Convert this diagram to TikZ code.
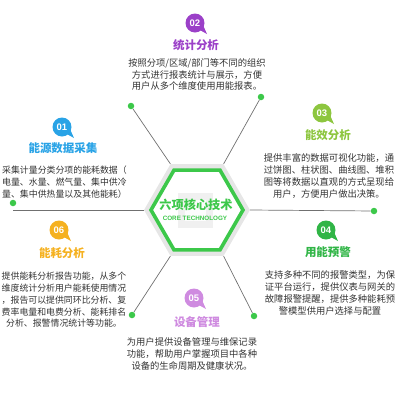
\documentclass[tikz,border=0pt]{standalone}
\usepackage{fontspec}
\newfontfamily\cjk{Noto Sans CJK SC}
\newfontfamily\lsans{Liberation Sans}
\usetikzlibrary{shapes.geometric,backgrounds,calc}
\definecolor{cA}{HTML}{29A3E6}
\definecolor{cB}{HTML}{9B40C8}
\definecolor{cC}{HTML}{8DC63F}
\definecolor{cD}{HTML}{30B546}
\definecolor{cE}{HTML}{CF8BE0}
\definecolor{cF}{HTML}{F5B120}
\definecolor{txt}{HTML}{333333}
\definecolor{linegray}{HTML}{707070}
\definecolor{dotgreen}{HTML}{3CC84A}
\definecolor{hexgreen}{HTML}{3CC84A}
\definecolor{hexgray}{HTML}{E6E6E6}
\tikzset{
  body/.style={font=\cjk\fontsize{9.3}{11.8}\selectfont, text=txt, align=center, inner sep=0pt},
  bodyl/.style={body, font=\cjk\fontsize{8.9}{11.8}\selectfont},
  ttl/.style={font=\cjk\bfseries\fontsize{11.5}{13}\selectfont, inner sep=0pt},
  num/.style={font=\lsans\bfseries\fontsize{9.5}{10}\selectfont, text=white, inner sep=0pt},
  conn/.style={draw=linegray, line width=0.7pt},
  gdot/.style={circle, fill=dotgreen, minimum size=6.5pt, inner sep=0pt},
}
\newcommand\badge[5]{%
  \fill[#4] (#2,#3) circle[radius=9.5pt];
  \fill[#4] ($(#2,#3)+(3,6)$) -- ($(#2,#3)+(12,11)$) -- ($(#2,#3)+(8,2)$) -- cycle;
  \node[num] (#1) at (#2,#3) {#5};
}
\begin{document}
\begin{tikzpicture}[x=1pt,y=-1pt]
\useasboundingbox (0,0) rectangle (400,400);

% centre hexagon
\node[regular polygon, regular polygon sides=6, minimum size=106pt, fill=hexgray, inner sep=0pt] (hex) at (197,210) {};
\node[regular polygon, regular polygon sides=6, minimum size=92pt, fill=white, draw=hexgreen, line width=3.6pt, inner sep=0pt] (hexin) at (197,210) {};
\fill[gray!12] (178,193) rectangle (213,228);
\fill[white!60!gray!6] (185,200) rectangle (206,221);
\node[font=\cjk\bfseries\fontsize{12.2}{13}\selectfont, text=hexgreen, inner sep=0pt] (core) at (196,205) {六项核心技术};
\node[font=\lsans\bfseries\fontsize{6.3}{7}\selectfont, text=hexgreen, inner sep=0pt] (coreen) at (195,218.5) {CORE TECHNOLOGY};

% dots
\node[gdot] (d1) at (131,106) {};
\node[gdot] (d2) at (261,97) {};
\node[gdot] (d3) at (13,203) {};
\node[gdot] (d4) at (374,211) {};
\node[gdot] (d5) at (132,315) {};
\node[gdot] (d6) at (254,316) {};
\coordinate (l3) at (13,210);

\begin{scope}[on background layer]
  \draw[conn] (d1) -- (hex.120);
  \draw[conn] (d2) -- (hex.60);
  \draw[conn] (l3) -- (hex.180);
  \draw[conn] (d4) -- (hex.0);
  \draw[conn] (d5) -- (hex.240);
  \draw[conn] (d6) -- (hex.300);
\end{scope}

% 01
\badge{b1}{62}{127}{cA}{01}
\node[ttl, text=cA] (t1) at (63,148) {能源数据采集};
\node[bodyl] (x1) at (64.5,182) {采集计量分类分项的能耗数据（\\电量、水量、燃气量、集中供冷\\量、集中供热量以及其他能耗）};

% 02
\badge{b2}{195}{23}{cB}{02}
\node[ttl, text=cB] (t2) at (196,45) {统计分析};
\node[body] (x2) at (197,74.5) {按照分项/区域/部门等不同的组织\\方式进行报表统计与展示，方便\\用户从多个维度使用用能报表。};

% 03
\badge{b3}{322}{113}{cC}{03}
\node[ttl, text=cC] (t3) at (328,135) {能效分析};
\node[body] (x3) at (329,176) {提供丰富的数据可视化功能，通\\过饼图、柱状图、曲线图、堆积\\图等将数据以直观的方式呈现给\\用户，方便用户做出决策。};

% 04
\badge{b4}{326}{230}{cD}{04}
\node[ttl, text=cD] (t4) at (328,252) {用能预警};
\node[body] (x4) at (330,293) {支持多种不同的报警类型，为保\\证平台运行，提供仪表与网关的\\故障报警提醒，提供多种能耗预\\警模型供用户选择与配置};

% 05
\badge{b5}{194}{298}{cE}{05}
\node[ttl, text=cE] (t5) at (197,322) {设备管理};
\node[body] (x5) at (192,354) {为用户提供设备管理与维保记录\\功能，帮助用户掌握项目中各种\\设备的生命周期及健康状况。};

% 06
\badge{b6}{59}{230}{cF}{06}
\node[ttl, text=cF] (t6) at (62,253) {能耗分析};
\node[bodyl] (x6) at (64,300) {提供能耗分析报告功能，从多个\\维度统计分析用户能耗使用情况\\，报告可以提供同环比分析、复\\费率电量和电费分析、能耗排名\\分析、报警情况统计等功能。};
\end{tikzpicture}
\end{document}
